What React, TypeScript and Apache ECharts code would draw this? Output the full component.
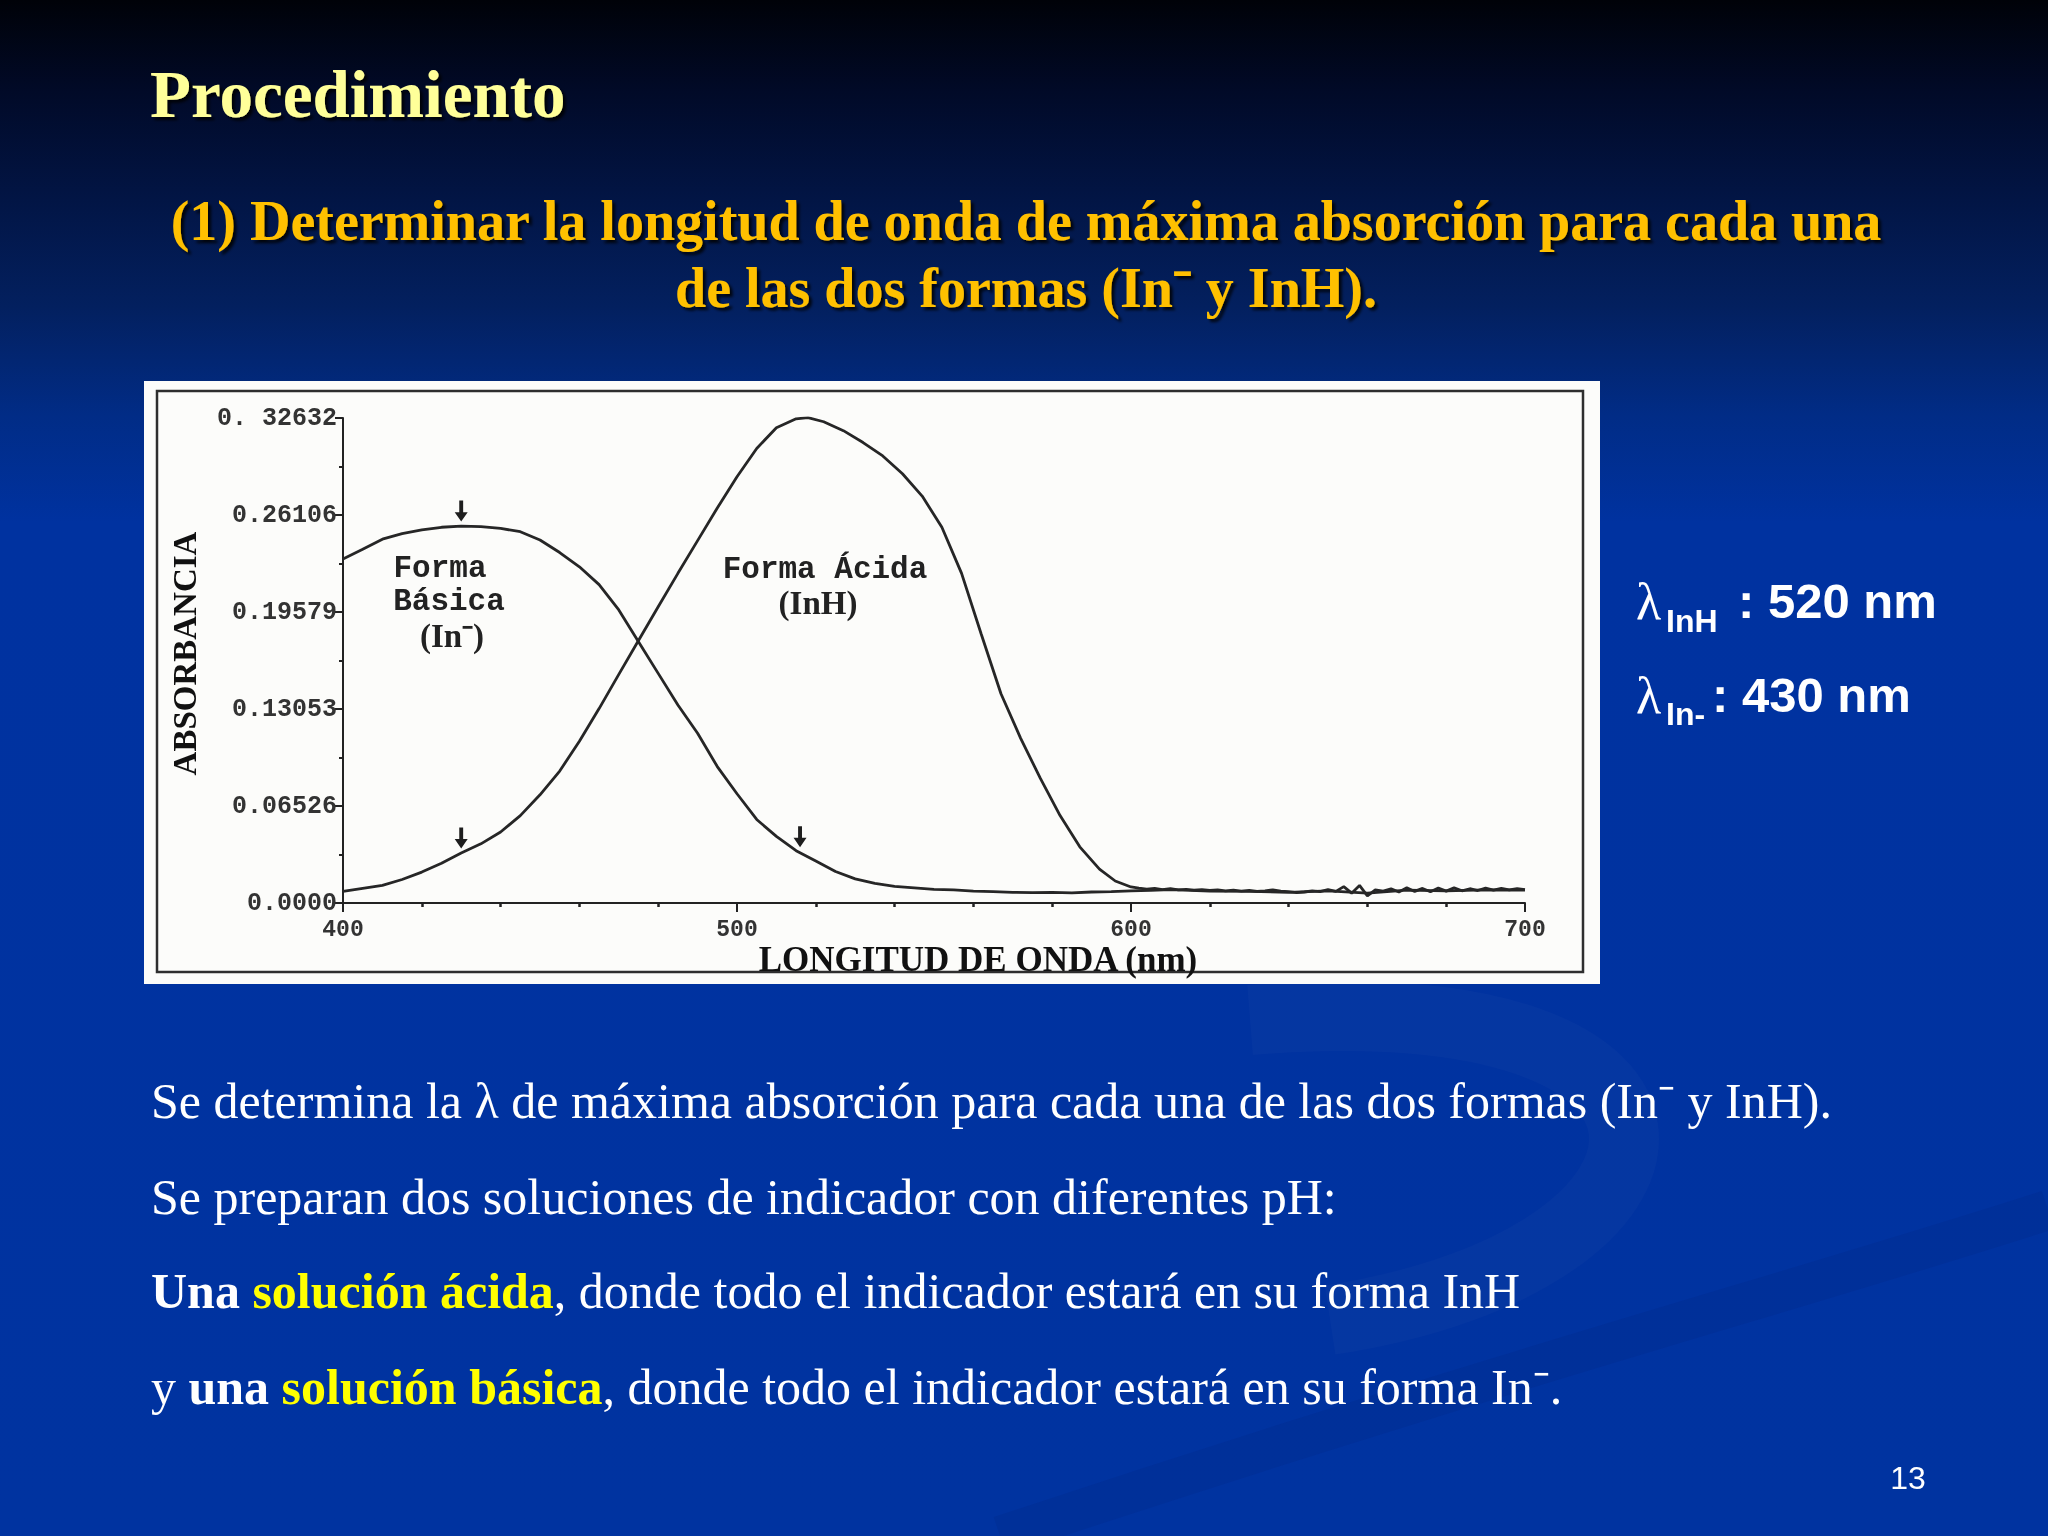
import React, { useEffect, useRef } from "react";
import * as echarts from "echarts";

// ---- Data ----
const basicWavelength = [400, 405, 410, 415, 420, 425, 430, 435, 440, 445, 450, 455, 460, 465, 470, 475, 480, 485, 490, 495, 500, 505, 510, 515, 520, 525, 530, 535, 540, 545, 550, 555, 560, 565, 570, 575, 580, 585, 590, 595, 600, 605, 610, 620, 630, 640, 650, 660, 670, 680, 690, 700];
const basicAbsorbance = [0.2315, 0.238, 0.2448, 0.2485, 0.251, 0.2528, 0.2536, 0.2533, 0.252, 0.2498, 0.2442, 0.2358, 0.2262, 0.2142, 0.1972, 0.1758, 0.1545, 0.1332, 0.1142, 0.0918, 0.0735, 0.0562, 0.0448, 0.0352, 0.0282, 0.0212, 0.0162, 0.0132, 0.0112, 0.0102, 0.0092, 0.0088, 0.0080, 0.0076, 0.0072, 0.0070, 0.0072, 0.0068, 0.0074, 0.0076, 0.0082, 0.0085, 0.0090, 0.0080, 0.0078, 0.0072, 0.0082, 0.0066, 0.0086, 0.0082, 0.0088, 0.0086];

const acidWavelength = [400, 405, 410, 415, 420, 425, 430, 435, 440, 445, 450, 455, 460, 465, 470, 475, 480, 485, 490, 495, 500, 505, 510, 515, 518, 522, 527, 532, 537, 542, 547, 552, 557, 562, 567, 572, 577, 582, 587, 592, 596, 600, 602, 604, 606, 608, 610, 612, 614, 616, 618, 620, 622, 624, 626, 628, 630, 632, 634, 636, 638, 640, 642, 644, 646, 648, 650, 652, 654, 656, 658, 660, 662, 664, 666, 668, 670, 672, 674, 676, 678, 680, 682, 684, 686, 688, 690, 692, 694, 696, 698, 700];
const acidAbsorbance = [0.0078, 0.0098, 0.0118, 0.0158, 0.0208, 0.0268, 0.0337, 0.0398, 0.0478, 0.0588, 0.0728, 0.0888, 0.1088, 0.1308, 0.1538, 0.1766, 0.1993, 0.2218, 0.2438, 0.2658, 0.2868, 0.3058, 0.3198, 0.3258, 0.3266, 0.3238, 0.3178, 0.3098, 0.3008, 0.2888, 0.2738, 0.2528, 0.2218, 0.1808, 0.1408, 0.1108, 0.0838, 0.0588, 0.0378, 0.0228, 0.0148, 0.0108, 0.0100, 0.0094, 0.0098, 0.0090, 0.0096, 0.0088, 0.0092, 0.0086, 0.0090, 0.0084, 0.0088, 0.0082, 0.0086, 0.0080, 0.0084, 0.0078, 0.0082, 0.0088, 0.0080, 0.0076, 0.0070, 0.0074, 0.0082, 0.0076, 0.0090, 0.0078, 0.0110, 0.0066, 0.0118, 0.0048, 0.0088, 0.0080, 0.0096, 0.0074, 0.0102, 0.0078, 0.0098, 0.0076, 0.0100, 0.0080, 0.0102, 0.0082, 0.0096, 0.0084, 0.0100, 0.0086, 0.0098, 0.0088, 0.0096, 0.0090];

const arrowsBasic = [[430, 0.2536], [516, 0.0345]];
const arrowsAcid = [[430, 0.0337], [518, 0.3266]];

const yTickLabels = ["0.0000", "0.06526", "0.13053", "0.19579", "0.26106", "0. 32632"];
const xTickLabels = ["400", "500", "600", "700"];
const yStep = 0.065264;

const SERIF = "'Liberation Serif', 'Times New Roman', serif";
const SANS = "'Liberation Sans', Arial, sans-serif";
const MONO = "'Liberation Mono', 'Courier New', monospace";

const ARROW = "path://M3.5,0 L6.5,0 L6.5,11 L10,11 L5,20 L0,11 L3.5,11 Z";

function App() {
  const ref = useRef<HTMLDivElement>(null);

  useEffect(() => {
    if (!ref.current) return;
    const chart = echarts.init(ref.current, undefined, { renderer: "svg" });

    const basicData = basicWavelength.map((x, i) => [x, basicAbsorbance[i]]);
    const acidData = acidWavelength.map((x, i) => [x, acidAbsorbance[i]]);

    const arrowMark = (pts: number[][]) => ({
      silent: true,
      symbol: ARROW,
      symbolSize: [13, 21],
      symbolOffset: [0, -15],
      itemStyle: { color: "#1e1e1e" },
      label: { show: false },
      data: pts.map((p) => ({ coord: p })),
    });

    const headShadow = {
      textShadowColor: "rgba(0,0,0,0.85)",
      textShadowBlur: 3,
      textShadowOffsetX: 3,
      textShadowOffsetY: 3,
    };

    const BODY = 50;
    const bodyRich = {
      n: { fontFamily: SERIF, fontSize: BODY, fill: "#ffffff", color: "#ffffff" },
      b: { fontFamily: SERIF, fontSize: BODY, fontWeight: "bold", fill: "#ffffff", color: "#ffffff" },
      y: { fontFamily: SERIF, fontSize: BODY, fontWeight: "bold", fill: "#ffff00", color: "#ffff00" },
    };

    const option: any = {
      animation: false,
      grid: { left: 343, top: 418, width: 1182, height: 485 },
      xAxis: {
        type: "value",
        min: 400,
        max: 700,
        interval: 100,
        axisLine: { show: true, onZero: false, lineStyle: { color: "#222", width: 2 } },
        axisTick: { show: true, length: 9, lineStyle: { color: "#222", width: 2 } },
        minorTick: { show: true, splitNumber: 5, length: 4, lineStyle: { color: "#222", width: 2.5 } },
        splitLine: { show: false },
        axisLabel: {
          margin: 15,
          fontFamily: MONO,
          fontWeight: "bold",
          fontSize: 23,
          color: "#333",
          formatter: (v: number) => xTickLabels[Math.round((v - 400) / 100)] ?? "",
        },
        name: "LONGITUD DE ONDA (nm)",
        nameLocation: "middle",
        nameGap: 30,
        nameTextStyle: {
          fontFamily: SERIF,
          fontWeight: "bold",
          fontSize: 35,
          color: "#111",
          padding: [0, 0, 0, 88],
        },
      },
      yAxis: {
        type: "value",
        min: 0,
        max: 0.32632,
        interval: yStep,
        axisLine: { show: true, lineStyle: { color: "#222", width: 2 } },
        axisTick: { show: true, length: 8, lineStyle: { color: "#222", width: 2 } },
        minorTick: { show: true, splitNumber: 2, length: 4, lineStyle: { color: "#222", width: 2 } },
        splitLine: { show: false },
        axisLabel: {
          margin: 6,
          fontFamily: MONO,
          fontWeight: "bold",
          fontSize: 25,
          color: "#333",
          formatter: (v: number) => yTickLabels[Math.round(v / yStep)] ?? "",
        },
        name: "ABSORBANCIA",
        nameLocation: "middle",
        nameGap: 142,
        nameTextStyle: { fontFamily: SERIF, fontWeight: "bold", fontSize: 33, color: "#111", padding: [0, 0, 0, 14] },
      },
      series: [
        {
          name: "Forma Básica (In⁻)",
          type: "line",
          data: basicData,
          showSymbol: false,
          symbol: "none",
          smooth: false,
          lineStyle: { color: "#262626", width: 2.8 },
          markPoint: arrowMark(arrowsBasic),
          z: 5,
        },
        {
          name: "Forma Ácida (InH)",
          type: "line",
          data: acidData,
          showSymbol: false,
          symbol: "none",
          smooth: false,
          lineStyle: { color: "#262626", width: 2.8 },
          markPoint: arrowMark(arrowsAcid),
          z: 5,
        },
      ],
      graphic: [
        // slide background
        {
          type: "rect",
          z: -100,
          silent: true,
          shape: { x: 0, y: 0, width: 2048, height: 1536 },
          style: {
            fill: new echarts.graphic.LinearGradient(0, 0, 0, 1, [
              { offset: 0, color: "#000208" },
              { offset: 0.06, color: "#010a28" },
              { offset: 0.13, color: "#021545" },
              { offset: 0.2, color: "#03205f" },
              { offset: 0.27, color: "#012c86" },
              { offset: 0.34, color: "#0032a0" },
              { offset: 1, color: "#0033a0" },
            ]),
          },
        },
        // subtle decorative swooshes
        {
          type: "bezierCurve",
          z: -99,
          silent: true,
          shape: { x1: 1250, y1: 1020, cpx1: 1750, cpy1: 980, cpx2: 1720, cpy2: 1260, x2: 1330, y2: 1320 },
          style: { stroke: "rgba(255,255,255,0.018)", lineWidth: 70, fill: "none" },
        },
        {
          type: "bezierCurve",
          z: -99,
          silent: true,
          shape: { x1: 2048, y1: 1210, cpx1: 1800, cpy1: 1290, cpx2: 1500, cpy2: 1370, x2: 1000, y2: 1536 },
          style: { stroke: "rgba(0,20,90,0.09)", lineWidth: 40, fill: "none" },
        },
        // white picture box
        {
          type: "rect",
          z: -90,
          silent: true,
          shape: { x: 144, y: 381, width: 1456, height: 603 },
          style: { fill: "#fcfcfa" },
        },
        {
          type: "rect",
          z: -89,
          silent: true,
          shape: { x: 157, y: 391, width: 1426, height: 581 },
          style: { fill: "none", stroke: "#2e2e2e", lineWidth: 2.5 },
        },
        // headings
        {
          type: "text",
          x: 150,
          y: 94,
          z: 10,
          style: {
            text: "Procedimiento",
            fontFamily: SERIF,
            fontWeight: "bold",
            fontSize: 67,
            fill: "#ffff99",
            align: "left",
            verticalAlign: "middle",
            ...headShadow,
          },
        },
        {
          type: "text",
          x: 1026,
          y: 221,
          z: 10,
          style: {
            text: "(1) Determinar la longitud de onda de máxima absorción para cada una",
            fontFamily: SERIF,
            fontWeight: "bold",
            fontSize: 56,
            fill: "#ffc000",
            align: "center",
            verticalAlign: "middle",
            ...headShadow,
          },
        },
        {
          type: "text",
          x: 1026,
          y: 288,
          z: 10,
          style: {
            text: "de las dos formas (In⁻ y InH).",
            fontFamily: SERIF,
            fontWeight: "bold",
            fontSize: 56,
            fill: "#ffc000",
            align: "center",
            verticalAlign: "middle",
            ...headShadow,
          },
        },
        // labels inside the plot
        { type: "text", x: 440, y: 568, z: 10, style: { text: "Forma", fontFamily: MONO, fontWeight: "bold", fontSize: 31, fill: "#222", align: "center", verticalAlign: "middle" } },
        { type: "text", x: 449, y: 601, z: 10, style: { text: "Básica", fontFamily: MONO, fontWeight: "bold", fontSize: 31, fill: "#222", align: "center", verticalAlign: "middle" } },
        { type: "text", x: 452, y: 636, z: 10, style: { text: "(In⁻)", fontFamily: SERIF, fontWeight: "bold", fontSize: 33, fill: "#222", align: "center", verticalAlign: "middle" } },
        { type: "text", x: 825, y: 569, z: 10, style: { text: "Forma Ácida", fontFamily: MONO, fontWeight: "bold", fontSize: 31, fill: "#222", align: "center", verticalAlign: "middle" } },
        { type: "text", x: 818, y: 603, z: 10, style: { text: "(InH)", fontFamily: SERIF, fontWeight: "bold", fontSize: 33, fill: "#222", align: "center", verticalAlign: "middle" } },
        // lambda annotations
        { type: "text", x: 1636, y: 601, z: 10, style: { text: "λ", fontFamily: SERIF, fontSize: 52, fill: "#fff", align: "left", verticalAlign: "middle" } },
        { type: "text", x: 1666, y: 621, z: 10, style: { text: "InH", fontFamily: SANS, fontWeight: "bold", fontSize: 32, fill: "#fff", align: "left", verticalAlign: "middle" } },
        { type: "text", x: 1738, y: 601, z: 10, style: { text: ": 520 nm", fontFamily: SANS, fontWeight: "bold", fontSize: 49, fill: "#fff", align: "left", verticalAlign: "middle" } },
        { type: "text", x: 1636, y: 695, z: 10, style: { text: "λ", fontFamily: SERIF, fontSize: 52, fill: "#fff", align: "left", verticalAlign: "middle" } },
        { type: "text", x: 1666, y: 714, z: 10, style: { text: "In-", fontFamily: SANS, fontWeight: "bold", fontSize: 32, fill: "#fff", align: "left", verticalAlign: "middle" } },
        { type: "text", x: 1712, y: 695, z: 10, style: { text: ": 430 nm", fontFamily: SANS, fontWeight: "bold", fontSize: 49, fill: "#fff", align: "left", verticalAlign: "middle" } },
        // body text
        {
          type: "text",
          x: 151,
          y: 1101,
          z: 10,
          style: {
            text: "Se determina la λ de máxima absorción para cada una de las dos formas (In⁻ y InH).",
            fontFamily: SERIF,
            fontSize: BODY,
            fill: "#fff",
            align: "left",
            verticalAlign: "middle",
          },
        },
        {
          type: "text",
          x: 151,
          y: 1197,
          z: 10,
          style: {
            text: "Se preparan dos soluciones de indicador con diferentes pH:",
            fontFamily: SERIF,
            fontSize: BODY,
            fill: "#fff",
            align: "left",
            verticalAlign: "middle",
          },
        },
        {
          type: "text",
          x: 151,
          y: 1291,
          z: 10,
          style: {
            text: "{b|Una} {y|solución ácida}{n|, donde todo el indicador estará en su forma InH}",
            fontFamily: SERIF,
            fontSize: BODY,
            fill: "#fff",
            align: "left",
            verticalAlign: "middle",
            rich: bodyRich,
          },
        },
        {
          type: "text",
          x: 151,
          y: 1387,
          z: 10,
          style: {
            text: "{n|y} {b|una} {y|solución básica}{n|, donde todo el indicador estará en su forma In⁻.}",
            fontFamily: SERIF,
            fontSize: BODY,
            fill: "#fff",
            align: "left",
            verticalAlign: "middle",
            rich: bodyRich,
          },
        },
        // page number
        { type: "text", x: 1908, y: 1478, z: 10, style: { text: "13", fontFamily: SANS, fontSize: 32, fill: "#fff", align: "center", verticalAlign: "middle" } },
      ],
    };

    chart.setOption(option);
    return () => {
      chart.dispose();
    };
  }, []);

  return (
    <div
      ref={ref}
      style={{ position: "fixed", left: 0, top: 0, width: 2048, height: 1536 }}
    />
  );
}

export default App;
